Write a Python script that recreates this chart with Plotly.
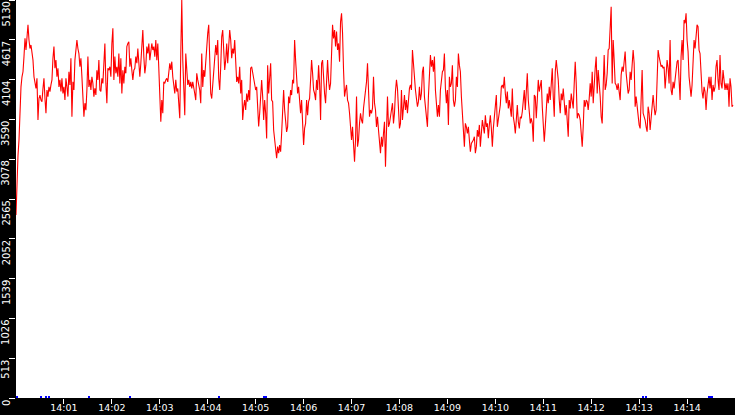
import pandas as pd
import plotly.graph_objects as go

# values, roughly one point per 1.25 s, split in four blocks
rate_a = [
    2360, 2940, 3130, 3325, 3840, 4010, 4140, 4205, 4400, 4635,
    4485, 4680, 4810, 4615, 4505, 4550, 4465, 4355, 4140, 4055,
    3990, 4120, 3583, 3860, 3905, 3840, 3820, 3990, 4120,
    3860, 3670, 3970, 3885, 4010, 3950, 4035, 4100, 4380, 4530,
    4250, 4355, 4140, 4250, 4010, 4100, 3950, 4120, 3925, 4010,
    3840, 4120, 4010, 3885, 4205, 4035, 4380, 3625, 4075,
    3970, 4355, 4485, 4615, 4505, 4440, 4270, 4380, 4140, 3840,
    3625, 3800, 3710, 3970, 4400, 4010, 4100, 3970, 4140, 4055,
    3885, 3990, 3905, 4225, 4100, 4355, 3970, 3950, 4120,
    4055, 4335, 4570, 4055, 3800, 4250, 4225, 4270, 4140, 4570,
    4765, 4100, 4400, 4185, 4270, 4140, 4440, 4055, 4380, 3925,
    4225, 4055, 4270, 4185, 4530, 4570, 4590, 4270, 4380, 4225,
    4100, 4225, 4250, 4400, 4315, 4505, 4290, 4140, 4315, 4615,
    4743, 4400, 4185, 4290, 4530, 4440, 4570, 4355, 4485, 4570,
    4485, 4530, 4400, 4615, 4355, 4570, 4250, 3925, 3560, 3840,
    3670, 4075, 4055, 4100, 4120, 4075, 4205, 4315, 4228, 4335,
    4140, 4010, 3925, 4100, 3950, 3990, 3840, 3605, 4440, 5130,
    4355, 4055, 3645, 4440, 4270, 4035, 4100, 4010, 4075, 3990,
    4075,
]
rate_b = [
    3970, 3925, 3840, 4185, 4100, 4035, 3970, 3800, 4440, 4010,
    4228, 4140, 4380, 4505, 4700, 4810, 4440, 3925, 3860, 4055,
    4140, 4440, 4550, 4420, 4615, 4120, 3970, 4270, 4655, 4743,
    4485, 4228, 4355, 4570, 4315, 4530, 4743, 4615, 4380, 4505,
    4440, 4615, 4185, 4075, 4140, 4055, 4270, 3925, 4100, 3583,
    3755, 3840, 3712, 3925, 3820, 3970, 3840, 4250, 4270, 4185,
    4100, 4055, 3970, 4010, 3712, 3500, 3670, 3840, 4100, 3885,
    3583, 3840, 3670, 3345, 4290, 3925, 4100, 4315, 3840, 3820,
    3454, 3325, 3240, 3090, 3240, 3155, 3260, 3175, 3410, 3800,
    3970, 3712, 3540, 3430, 3495, 3885, 3800, 3970, 3905, 4100,
    4055, 4615, 4355, 4120, 3925, 4010, 3800, 3670, 3840, 3410,
    3260, 3475, 3540, 3840, 3645, 3820, 3860, 4100, 4355, 4185,
    3970, 3925, 3840, 4100, 3970, 4290, 4055, 3583, 4315, 4355,
    4055, 3925, 3800, 4140, 4355, 4100, 3970, 4055, 4485, 4810,
    4635, 4743, 4530, 4722, 4485, 4570, 4335, 4850, 4958, 4700,
    4228, 3885, 3970, 4035, 3840, 3800, 3670, 3540, 3325, 3495,
    3155, 3045, 3325, 3885, 3240, 3325, 3540, 3670, 3583, 3540,
    3735, 3840, 3925, 4075, 4315, 3990, 3625, 3712, 3670, 3735,
]
rate_c = [
    4140, 3800, 3712, 3495, 3625, 3454, 3282, 3155, 3368, 3240,
    3410, 3560, 2980, 3670, 3885, 3495, 3540, 3625, 3755, 3800,
    3540, 3670, 3950, 4100, 3990, 3670, 3475, 3540, 3970, 3583,
    3755, 3905, 3712, 3840, 3670, 3840, 3990, 4035, 3970, 4485,
    4270, 4055, 3970, 3860, 3755, 3820, 4010, 3840, 3925, 4205,
    4270, 3885, 3712, 3560, 3495, 3885, 4250, 4420, 4270, 4355,
    4205, 4400, 3970, 3755, 3625, 3777, 3625, 3970, 4075, 4205,
    4228, 4440, 3990, 3800, 3970, 3520, 4140, 4010, 4055, 4290,
    3840, 3755, 3840, 4140, 4010, 4440, 4290, 4205, 3885, 3670,
    3390, 3240, 3540, 3495, 3410, 3495, 3325, 3175, 3282, 3304,
    3325, 3368, 3155, 3240, 3454, 3368, 3520, 3240, 3410, 3583,
    3495, 3410, 3645, 3495, 3540, 3347, 3520, 3645, 3475, 3240,
    3475, 3645, 3712, 3905, 3495, 3605, 3645, 3777, 4010, 4035,
    3990, 4140, 3925, 3800, 3950, 3733, 3840, 3755, 3625, 3990,
    3625, 3540, 3410, 3583, 3777, 3560, 3475, 3625, 3605, 3690,
    3885, 3970, 3712, 3970, 4185, 3840, 3625, 3540, 3605, 3540,
    3304, 3905, 3885, 3605, 3840, 4100, 3950, 4010, 4099, 3755,
    3410, 3304, 3495, 3670, 3925, 3800, 4010, 3840, 4100, 4250,
]
rate_d = [
    3885, 3625, 4205, 4357, 4228, 4100, 3840, 3670, 3925, 3840,
    3990, 3800, 3645, 3777, 3583, 3368, 3840, 3733, 3925, 3840,
    3733, 4055, 4335, 4055, 3605, 3670, 3645, 3583, 3410, 3240,
    3495, 3840, 3755, 3840, 3820, 3712, 3860, 4055, 3885, 4205,
    3800, 4100, 4250, 4400, 3925, 4228, 4100, 3885, 3625, 3540,
    4010, 4420, 3970, 4035, 4185, 4485, 4505, 4765, 5044, 4055,
    4615, 4357, 4055, 4035, 3970, 4055, 3925, 3840, 4164, 4270,
    4205, 4335, 4465, 4185, 3990, 3925, 3970, 4205, 4100, 4290,
    4485, 4315, 3755, 3885, 3755, 3645, 3520, 3475, 3840, 4228,
    3670, 3625, 3583, 3495, 3432, 3755, 3670, 3454, 3645, 3712,
    3905, 3755, 3645, 3712, 4075, 4485, 4400, 4315, 4270, 4290,
    4250, 4270, 3990, 4164, 4357, 4250, 4055, 4615, 3970, 3905,
    4075, 3990, 4140, 4290, 4335, 4357, 4100, 3840, 4400, 4615,
    4357, 4872, 4830, 4958, 4615, 4465, 4140, 3990, 3885, 4035,
    4400, 4615, 4505, 4680, 4810, 4787, 4485, 4440, 4140, 3950,
    3860, 4010, 3950, 3712, 3925, 4055, 4140, 3990, 4140, 3840,
    4035, 3950, 4010, 4270, 4357, 4100, 3970, 4420, 4055, 3990,
    4228, 4100, 3970, 4055, 3970, 4055, 3755, 4120, 4010, 3755,
    3777,
]

# small blue blips sitting on the zero line
blip_times = ["14:00:01", "14:00:31", "14:00:38", "14:00:42", "14:01:32",
              "14:02:23", "14:04:14", "14:05:11", "14:05:13", "14:13:05",
              "14:13:09", "14:14:27", "14:14:29", "14:14:31"]
blip_values = [25, 25, 25, 25, 20, 20, 20, 25, 25, 30, 30, 15, 15, 15]

y_ticks = [0, 513, 1026, 1539, 2052, 2565, 3078, 3590, 4104, 4617, 5130]
x_tick_labels = ["14:01", "14:02", "14:03", "14:04", "14:05", "14:06", "14:07",
                 "14:08", "14:09", "14:10", "14:11", "14:12", "14:13", "14:14"]

day = "2024-05-14 "
values = rate_a + rate_b + rate_c + rate_d
times = pd.date_range(day + "14:00:00", periods=len(values), freq="1250ms")

fig = go.Figure()
fig.add_trace(go.Bar(
    x=[pd.Timestamp(day + t) for t in blip_times], y=blip_values,
    width=1500, marker=dict(color="#0000ff", line=dict(width=0)),
))
fig.add_trace(go.Scatter(
    x=times, y=values, mode="lines",
    line=dict(color="#ff0000", width=1.1),
))

tick_font = dict(family="DejaVu Sans", size=10, color="white")
fig.update_xaxes(
    range=[pd.Timestamp(day + "14:00:00"), pd.Timestamp(day + "14:15:00")],
    tickvals=[pd.Timestamp(day + t) for t in x_tick_labels],
    ticktext=x_tick_labels,
    ticks="outside", ticklen=5, tickcolor="white", tickwidth=1,
    tickfont=dict(family="DejaVu Sans", size=9.5, color="white"),
    ticklabelstandoff=-4,
    showgrid=False, zeroline=False, showline=False, automargin=False,
)
fig.update_yaxes(
    range=[0, 5130], tickvals=y_ticks, showticklabels=False,
    ticks="outside", ticklen=6, tickcolor="white", tickwidth=1,
    showgrid=False, zeroline=False, showline=False, automargin=False,
)

# y labels are rotated and hang below their tick
for v in y_ticks:
    fig.add_annotation(
        x=0, xref="paper", y=v, yref="y", text=str(v), textangle=-90,
        xanchor="center", yanchor="top", xshift=-10, showarrow=False,
        font=tick_font,
    )

fig.update_layout(
    width=735, height=415,
    margin=dict(l=16, r=0, t=0, b=17, pad=0),
    paper_bgcolor="black", plot_bgcolor="white",
    showlegend=False, bargap=0,
)

# the page would otherwise keep the browser's 8px body margin
fig.write_html(
    "out.html",
    config={"displayModeBar": False},
    post_script="document.body.style.margin='0';document.body.style.overflow='hidden';",
)
